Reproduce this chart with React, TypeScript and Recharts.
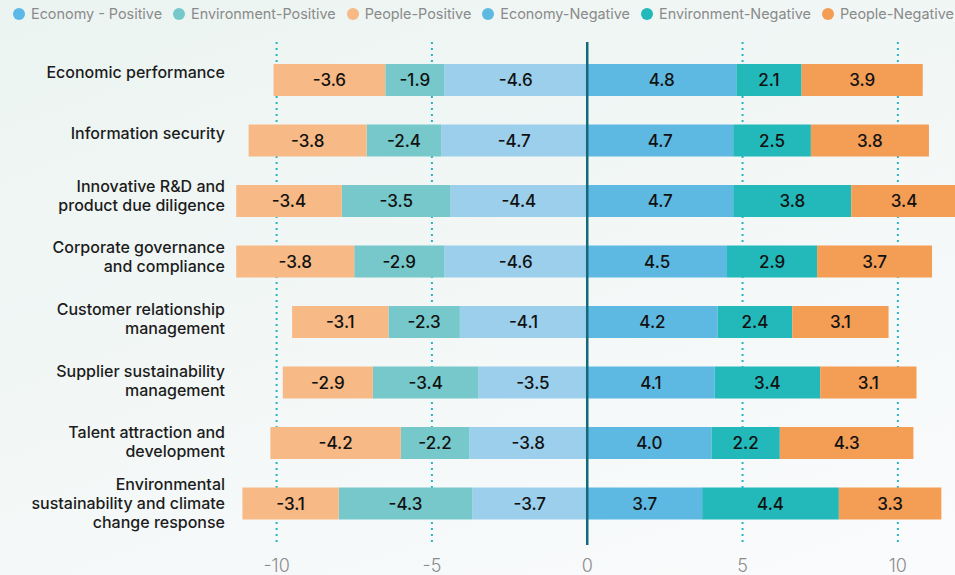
import { BarChart, Bar, XAxis, YAxis, CartesianGrid, ReferenceLine, LabelList } from "recharts";

// categories (line breaks follow the reference's wrapped axis labels)
const categories = [
  "Economic performance",
  "Information security",
  "Innovative R&D and\nproduct due diligence",
  "Corporate governance\nand compliance",
  "Customer relationship\nmanagement",
  "Supplier sustainability\nmanagement",
  "Talent attraction and\ndevelopment",
  "Environmental\nsustainability and climate\nchange response",
];

const economyPositive = [-4.6, -4.7, -4.4, -4.6, -4.1, -3.5, -3.8, -3.7];
const environmentPositive = [-1.9, -2.4, -3.5, -2.9, -2.3, -3.4, -2.2, -4.3];
const peoplePositive = [-3.6, -3.8, -3.4, -3.8, -3.1, -2.9, -4.2, -3.1];
const economyNegative = [4.8, 4.7, 4.7, 4.5, 4.2, 4.1, 4.0, 3.7];
const environmentNegative = [2.1, 2.5, 3.8, 2.9, 2.4, 3.4, 2.2, 4.4];
const peopleNegative = [3.9, 3.8, 3.4, 3.7, 3.1, 3.1, 4.3, 3.3];

const xTicks = [-10, -5, 0, 5, 10];
const xDomain = [-11.5, 12];

const FONT = "Inter, 'Noto Sans', sans-serif";

const series = [
  { key: "econPos", name: "Economy - Positive", values: economyPositive, color: "#9bcfec", legend: "#5cb8e6" },
  { key: "envPos", name: "Environment-Positive", values: environmentPositive, color: "#76c8ca", legend: "#76c8ca" },
  { key: "peoplePos", name: "People-Positive", values: peoplePositive, color: "#f7b985", legend: "#f7b985" },
  { key: "econNeg", name: "Economy-Negative", values: economyNegative, color: "#5eb9e2", legend: "#5eb9e2" },
  { key: "envNeg", name: "Environment-Negative", values: environmentNegative, color: "#23b8ba", legend: "#23b8ba" },
  { key: "peopleNeg", name: "People-Negative", values: peopleNegative, color: "#f39d55", legend: "#f39d55" },
];

const data = categories.map((category, i) => {
  const row: any = { category };
  series.forEach((s) => {
    row[s.key] = s.values[i];
  });
  return row;
});

const CategoryTick = ({ x, y, payload, index }: any) => {
  const lines = String(payload.value).split("\n");
  const lh = 19;
  const i0 = typeof index === "number" ? index : payload.index ?? 0;
  const nudge = -8 + (i0 * 8) / 7;
  const first = -((lines.length - 1) * lh) / 2 + nudge + 5.6;
  return (
    <text x={x} y={y} textAnchor="end" fontSize={16} fontWeight={500} fill="#1c1c1c" fontFamily={FONT}>
      {lines.map((line, i) => (
        <tspan key={i} x={x} dy={i === 0 ? first : lh}>
          {line}
        </tspan>
      ))}
    </text>
  );
};

// dotted guides at the non-zero ticks only
const gridX = ({ xAxis, offset }: any) => {
  const sc = xAxis && typeof xAxis.scale === "function" ? xAxis.scale : null;
  return xTicks
    .filter((t) => t !== 0)
    .map((t) =>
      sc ? sc(t) : offset.left + ((t - xDomain[0]) / (xDomain[1] - xDomain[0])) * offset.width
    );
};

export default function App() {
  return (
    <div
      style={{
        position: "absolute",
        left: 0,
        top: 0,
        width: 955,
        height: 575,
        overflow: "hidden",
        background: "linear-gradient(160deg, #ebf4f1 0%, #f2f7f6 45%, #fafbfc 100%)",
        fontFamily: FONT,
      }}
    >
      <div
        style={{
          position: "absolute",
          left: 13,
          top: 5,
          display: "flex",
          alignItems: "center",
          whiteSpace: "nowrap",
          fontSize: 14.4,
          color: "#8a8a8a",
        }}
      >
        {series.map((s) => (
          <div key={s.key} style={{ display: "flex", alignItems: "center", marginRight: 11 }}>
            <span
              style={{
                display: "inline-block",
                width: 12,
                height: 12,
                borderRadius: 6,
                background: s.legend,
                marginRight: 6,
              }}
            />
            <span>{s.name}</span>
          </div>
        ))}
      </div>
      <div style={{ position: "absolute", left: 0, top: 0 }}>
        <BarChart
          width={960}
          height={575}
          data={data}
          layout="vertical"
          stackOffset="sign"
          barSize={32}
          margin={{ top: 42, right: 0, bottom: 0, left: 0 }}
        >
          <CartesianGrid
            horizontal={false}
            verticalCoordinatesGenerator={gridX}
            stroke="#27b5c5"
            strokeWidth={2}
            strokeDasharray="2 4"
          />
          <XAxis
            type="number"
            domain={xDomain}
            allowDataOverflow
            ticks={xTicks}
            height={30}
            tickLine={false}
            axisLine={false}
            tickSize={6}
            tickMargin={8}
            tick={{ fontSize: 18, fill: "#8c8c8c", fontWeight: 300, fontFamily: FONT }}
          />
          <YAxis
            type="category"
            dataKey="category"
            width={230}
            padding={{ top: 8, bottom: 11 }}
            tickLine={false}
            axisLine={false}
            tickSize={0}
            tickMargin={5}
            interval={0}
            tick={<CategoryTick />}
          />
          {series.map((s) => (
            <Bar key={s.key} dataKey={s.key} name={s.name} stackId="a" fill={s.color} isAnimationActive={false}>
              <LabelList
                dataKey={s.key}
                position="center"
                formatter={(v: any) => Number(v).toFixed(1)}
                fill="#111"
                fontSize={17}
                fontWeight={500}
                fontFamily={FONT}
              />
            </Bar>
          ))}
          <ReferenceLine x={0} stroke="#14697a" strokeWidth={2.5} />
        </BarChart>
      </div>
    </div>
  );
}
